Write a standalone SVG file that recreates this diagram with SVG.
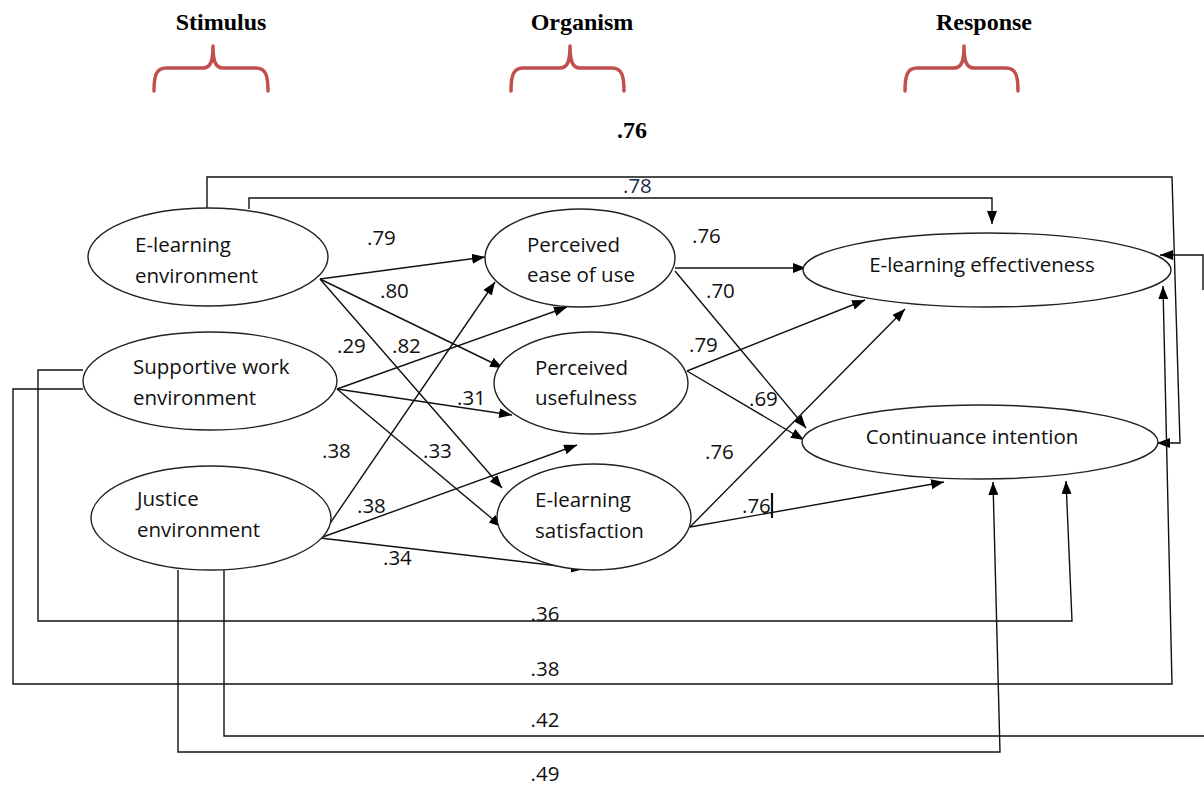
<svg xmlns="http://www.w3.org/2000/svg" width="1204" height="785" viewBox="0 0 1204 785">
<style>
.node ellipse{fill:#fff;stroke:#222;stroke-width:1.4}
.t{font-family:"Open Sans","Liberation Sans",sans-serif;font-size:20.5px;fill:#111}
.lbl{font-family:"Open Sans","Liberation Sans",sans-serif;font-size:20.5px;fill:#111}
.hd{font-family:"Liberation Serif","Times New Roman",serif;font-size:24px;font-weight:bold;fill:#000}
.brace{fill:none;stroke:#c0504d;stroke-width:3.5;stroke-linecap:round;stroke-linejoin:round}
.c line,.c path{fill:none;stroke:#111;stroke-width:1.4}
.a{marker-end:url(#ah)}
.bt{stroke:#333;stroke-width:1.6}
</style>
<defs>
<marker id="ah" markerUnits="userSpaceOnUse" markerWidth="14" markerHeight="12" refX="13" refY="5" orient="auto">
<path d="M0,0 L13,5 L0,10 z" fill="#000"/>
</marker>
</defs>
<rect width="1204" height="785" fill="#fff"/>

<g id="headers">
<text class="hd" x="221" y="30" text-anchor="middle">Stimulus</text>
<text class="hd" x="582" y="30" text-anchor="middle">Organism</text>
<text class="hd" x="984" y="30" text-anchor="middle">Response</text>
<path class="brace" d="M154,91 C154,76 156,68 166,68 H203 C211,68 213,60 213,46 C213,60 215,68 223,68 H256 C266,68 268,76 268,91"/>
<path class="brace" d="M511,91 C511,76 513,68 523,68 H560 C568,68 570,60 570,46 C570,60 572,68 580,68 H612 C622,68 624,76 624,91"/>
<path class="brace" d="M905,91 C905,76 907,68 917,68 H954 C962,68 964,60 964,46 C964,60 966,68 974,68 H1006 C1016,68 1018,76 1018,91"/>
<text class="hd" x="632" y="138" text-anchor="middle">.76</text>
</g>

<g id="connectors" class="c">
<path class="a" d="M207,208 V177 H1172 L1180,443 H1157"/>
<path class="a" d="M249,209 V198 H992 V224"/>
<path class="a bt" d="M83,370 H38 V621 H1072 L1066,481"/>
<path class="a bt" d="M83,389 H13 V684 H1172 L1163,286"/>
<path class="bt" d="M224,570 V736 H1206"/>
<path class="a" d="M1203,290 V255 H1160"/>
<path class="a bt" d="M178,570 V752 H1000 L993,482"/>
<line class="a" x1="320" y1="279" x2="485" y2="257"/>
<line class="a" x1="320" y1="279" x2="503" y2="368"/>
<line class="a" x1="320" y1="279" x2="502" y2="488"/>
<line class="a" x1="337" y1="389" x2="567" y2="307"/>
<line class="a" x1="337" y1="389" x2="512" y2="415"/>
<line class="a" x1="337" y1="389" x2="502" y2="527"/>
<line class="a" x1="320" y1="538" x2="495" y2="282"/>
<line class="a" x1="320" y1="538" x2="577" y2="445"/>
<line class="a" x1="320" y1="538" x2="584" y2="569"/>
<line class="a" x1="675" y1="268" x2="806" y2="268"/>
<line class="a" x1="675" y1="271" x2="806" y2="428"/>
<line class="a" x1="687" y1="371" x2="865" y2="300"/>
<line class="a" x1="687" y1="371" x2="804" y2="440"/>
<line class="a" x1="690" y1="527" x2="905" y2="309"/>
<line class="a" x1="690" y1="527" x2="944" y2="482"/>
<line x1="772" y1="493" x2="772" y2="518" style="stroke-width:2.2"/>
</g>

<g id="n-elearning-env" class="node">
<ellipse cx="208" cy="257" rx="120" ry="49"/>
<text class="t" x="135" y="252">E-learning</text>
<text class="t" x="135" y="283">environment</text>
</g>
<g id="n-supportive" class="node">
<ellipse cx="210" cy="381" rx="127" ry="49"/>
<text class="t" x="133" y="374">Supportive work</text>
<text class="t" x="133" y="405">environment</text>
</g>
<g id="n-justice" class="node">
<ellipse cx="211" cy="518" rx="120" ry="52"/>
<text class="t" x="137" y="506">Justice</text>
<text class="t" x="137" y="537">environment</text>
</g>
<g id="n-peou" class="node">
<ellipse cx="580" cy="258" rx="95" ry="49"/>
<text class="t" x="527" y="252">Perceived</text>
<text class="t" x="527" y="282">ease of use</text>
</g>
<g id="n-pu" class="node">
<ellipse cx="591" cy="383" rx="97" ry="51"/>
<text class="t" x="535" y="375">Perceived</text>
<text class="t" x="535" y="405">usefulness</text>
</g>
<g id="n-sat" class="node">
<ellipse cx="594" cy="517" rx="97" ry="53"/>
<text class="t" x="535" y="507">E-learning</text>
<text class="t" x="535" y="538">satisfaction</text>
</g>
<g id="n-eff" class="node">
<ellipse cx="987" cy="270" rx="184" ry="37"/>
<text class="t" x="982" y="272" text-anchor="middle">E-learning effectiveness</text>
</g>
<g id="n-ci" class="node">
<ellipse cx="980" cy="442" rx="178" ry="37"/>
<text class="t" x="972" y="444" text-anchor="middle">Continuance intention</text>
</g>

<g id="labels">
<text class="lbl" x="367" y="245">.79</text>
<text class="lbl" x="380" y="298">.80</text>
<text class="lbl" x="392" y="353">.82</text>
<text class="lbl" x="337" y="353">.29</text>
<text class="lbl" x="457" y="405">.31</text>
<text class="lbl" x="423" y="458">.33</text>
<text class="lbl" x="322" y="458">.38</text>
<text class="lbl" x="357" y="513">.38</text>
<text class="lbl" x="383" y="565">.34</text>
<text class="lbl" x="692" y="243">.76</text>
<text class="lbl" x="706" y="298">.70</text>
<text class="lbl" x="689" y="352">.79</text>
<text class="lbl" x="749" y="406">.69</text>
<text class="lbl" x="705" y="459">.76</text>
<text class="lbl" x="742" y="513">.76</text>
<text class="lbl" x="623" y="193" style="fill:#1b2b4b">.78</text>
<text class="lbl" x="545" y="621" text-anchor="middle">.36</text>
<text class="lbl" x="545" y="676" text-anchor="middle">.38</text>
<text class="lbl" x="545" y="727" text-anchor="middle">.42</text>
<text class="lbl" x="545" y="781" text-anchor="middle">.49</text>
</g>
</svg>
